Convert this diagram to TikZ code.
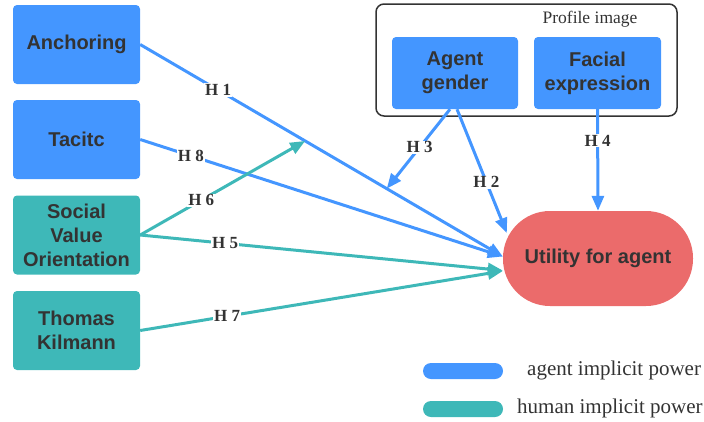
\documentclass[tikz,border=0pt]{standalone}
\usepackage{fontspec}
\setmainfont{Liberation Serif}
\setsansfont{Liberation Sans}
\usetikzlibrary{arrows.meta,calc}
\definecolor{agentblue}{HTML}{4496FF}
\definecolor{humanteal}{HTML}{3EB8B8}
\definecolor{utilred}{HTML}{EB6B6B}
\definecolor{ink}{HTML}{333333}
\begin{document}
\begin{tikzpicture}[x=1pt,y=-1pt,
  factor/.style={rounded corners=4pt, minimum width=127pt, minimum height=79pt,
    align=center, text=ink, inner sep=0pt,
    font=\sffamily\bfseries\fontsize{20}{24}\selectfont},
  agentbox/.style={factor, fill=agentblue},
  humanbox/.style={factor, fill=humanteal},
  link/.style={line width=3pt, -{Triangle[length=15pt,width=12pt]}},
  hyp/.style={fill=white, inner sep=1pt, text=ink,
    font=\bfseries\fontsize{17}{17}\selectfont},
  legbar/.style={rounded corners=8pt, minimum width=80pt, minimum height=16pt, inner sep=0pt},
  legtext/.style={anchor=west, text=ink, inner sep=0pt, font=\fontsize{21}{21}\selectfont},
]
\useasboundingbox (0,0) rectangle (704,421);

% predictor boxes on the left
\node[agentbox] (anch)  at (76.5,44.5)  {Anchoring};
\node[agentbox] (tacit) at (76.5,139.5) {Tacitc};
\node[humanbox] (svo)   at (76.5,235)   {Social\\Value\\Orientation};
\node[humanbox] (tk)    at (76.5,330.5) {Thomas\\Kilmann};

% profile image group
\node[draw=ink, line width=1.5pt, rounded corners=8pt, minimum width=301pt,
      minimum height=112pt, inner sep=0pt] (profile) at (526.5,60) {};
\node[text=ink, font=\fontsize{17.5}{17.5}\selectfont] (ptitle) at (590,19) {Profile image};
\node[agentbox, minimum width=126pt, minimum height=72pt] (ag) at (455,73) {Agent\\gender};
\node[agentbox, minimum width=127pt, minimum height=72pt] (fe) at (597.5,73) {Facial\\expression};

% outcome
\node[fill=utilred, rounded corners=47pt, minimum width=190pt, minimum height=95pt,
      text=ink, font=\sffamily\bfseries\fontsize{20}{24}\selectfont] (util) at (598,258.5)
      {Utility for agent};

% hypotheses
\draw[link, agentblue] (anch.east) --
  coordinate[pos=0.455] (h6end) coordinate[pos=0.68] (h3end)
  node[hyp, pos=0.215] {H 1} ($(util.west)+(0,-2)$);
\draw[link, agentblue] (tacit.east) -- node[hyp, pos=0.14] {H 8} ($(util.west)+(0,-2)$);
\draw[link, humanteal] (svo.east) -- node[hyp, pos=0.37] {H 6} (h6end);
\draw[link, humanteal] (svo.east) -- node[hyp, pos=0.234] {H 5} ($(util.west)+(0,12)$);
\draw[link, humanteal] (tk.east) -- node[hyp, pos=0.24] {H 7} ($(util.west)+(0,12.5)$);
\draw[link, agentblue] ($(ag.south)+(-5,0)$) -- node[hyp, pos=0.48] {H 3} (h3end);
\draw[link, agentblue] ($(ag.south)+(2,0)$) -- node[hyp, pos=0.59] {H 2} ($(util.west)+(4,-25.5)$);
\draw[link, agentblue] (fe.south) -- node[hyp, pos=0.31] {H 4} (util.north);

% legend
\node[legbar, fill=agentblue] (legA) at (463,371) {};
\node[legtext] (legAt) at (527,370) {agent implicit power};
\node[legbar, fill=humanteal] (legH) at (463,409) {};
\node[legtext] (legHt) at (517,408) {human implicit power};
\end{tikzpicture}
\end{document}
